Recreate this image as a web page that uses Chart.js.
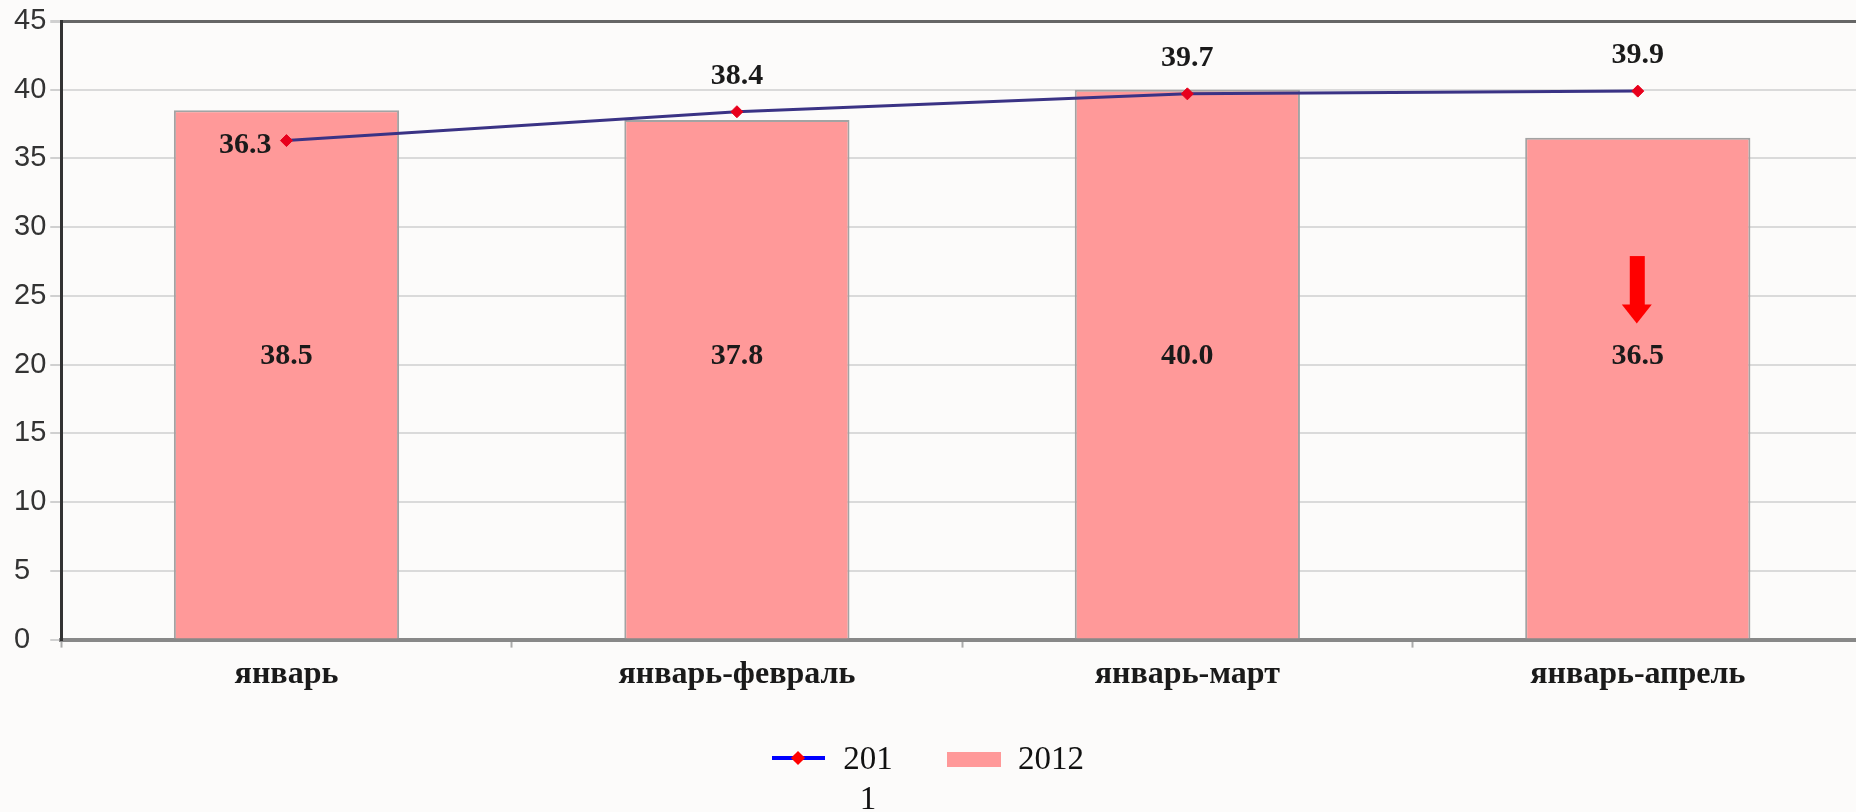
<!DOCTYPE html>
<html>
<head>
<meta charset="utf-8">
<script src="https://cdn.jsdelivr.net/npm/chart.js@4/dist/chart.umd.min.js"></script>
<style>
  html, body { margin: 0; padding: 0; background: #fcfbfa; }
  body { width: 1856px; height: 812px; overflow: hidden; position: relative; }
  #wrap { position: absolute; left: 0; top: 0; width: 1870px; height: 812px; }
  .lg { position: absolute; font-family: "Liberation Serif", serif; font-size: 33px; line-height: 40px; color: #111; }
</style>
</head>
<body>
<div id="wrap"><canvas id="grafico"></canvas></div>

<div style="position:absolute;left:772px;top:756px;width:53px;height:4px;background:#0000ff;"></div>
<div style="position:absolute;left:793px;top:753px;width:10px;height:10px;background:#ff0000;transform:rotate(45deg);"></div>
<div class="lg" id="leg2011" style="left:842px;top:738px;width:52px;text-align:center;word-break:break-all;"></div>
<div style="position:absolute;left:947px;top:752px;width:54px;height:15px;background:#ff9999;"></div>
<div class="lg" id="leg2012" style="left:1018px;top:738px;"></div>

<script>
var periodos = ["январь", "январь-февраль", "январь-март", "январь-апрель"];
var serie2011 = [36.3, 38.4, 39.7, 39.9];
var serie2012 = [38.5, 37.8, 40.0, 36.5];
var nombres = ["2011", "2012"];
var ejeY = { min: 0, max: 45, paso: 5 };

document.getElementById("leg2011").textContent = nombres[0];
document.getElementById("leg2012").textContent = nombres[1];

// etiquetas de datos y la flecha roja
var etiquetas = {
  id: "etiquetas",
  afterDatasetsDraw: function (chart) {
    var ctx = chart.ctx;
    var y = chart.scales.y;
    ctx.save();
    ctx.font = "bold 30px 'Liberation Serif'";
    ctx.fillStyle = "#1a1a1a";
    ctx.textBaseline = "alphabetic";

    // barras: texto a media altura
    var barras = chart.getDatasetMeta(1).data;
    ctx.textAlign = "center";
    barras.forEach(function (b, i) {
      ctx.fillText(serie2012[i].toFixed(1), b.x, y.getPixelForValue(20.8) + 10);
    });

    // linea: primero a la izquierda, el resto encima
    var puntos = chart.getDatasetMeta(0).data;
    puntos.forEach(function (p, i) {
      var txt = serie2011[i].toFixed(1);
      if (i === 0) {
        ctx.textAlign = "right";
        ctx.fillText(txt, p.x - 15, p.y + 12);
      } else {
        ctx.textAlign = "center";
        ctx.fillText(txt, p.x, p.y - 28);
      }
    });

    // flecha hacia abajo en la ultima barra
    var ult = barras[barras.length - 1];
    var ax = ult.x - 1;
    var yTop = y.getPixelForValue(27.9);
    var yTip = y.getPixelForValue(23.0);
    var yHead = yTip - 19;
    ctx.fillStyle = "#ff0000";
    ctx.fillRect(ax - 7, yTop, 15, yHead - yTop + 1);
    ctx.beginPath();
    ctx.moveTo(ax - 15, yHead);
    ctx.lineTo(ax + 15, yHead);
    ctx.lineTo(ax, yTip);
    ctx.closePath();
    ctx.fill();
    ctx.restore();
  }
};

document.addEventListener("DOMContentLoaded", function () {
  var ctx = document.getElementById("grafico").getContext("2d");
  new Chart(ctx, {
    type: "bar",
    data: {
      labels: periodos,
      datasets: [
        {
          type: "line",
          label: nombres[0],
          data: serie2011,
          borderColor: "#3a3385",
          borderWidth: 3,
          pointStyle: "rectRot",
          pointRadius: 6,
          pointBackgroundColor: "#e8001c",
          pointBorderColor: "#e8001c",
          pointBorderWidth: 1,
          tension: 0,
          order: 0
        },
        {
          label: nombres[1],
          data: serie2012,
          backgroundColor: "#ff9999",
          borderColor: "#a3a3a3",
          borderWidth: 2,
          barPercentage: 0.5,
          categoryPercentage: 1.0,
          order: 1
        }
      ]
    },
    options: {
      responsive: true,
      maintainAspectRatio: false,
      animation: false,
      layout: { padding: { left: 14, right: 0, top: 21, bottom: 110 } },
      plugins: {
        legend: { display: false },
        tooltip: { enabled: false }
      },
      scales: {
        x: {
          offset: true,
          grid: {
            display: true,
            offset: true,
            drawOnChartArea: false,
            tickLength: 8,
            tickColor: "#aaaaaa",
            tickWidth: 2
          },
          border: { display: true, color: "#888888", width: 4 },
          ticks: {
            padding: 8,
            color: "#1a1a1a",
            font: { family: "'Liberation Serif'", size: 32, weight: "bold" }
          }
        },
        y: {
          min: ejeY.min,
          max: ejeY.max,
          ticks: {
            stepSize: ejeY.paso,
            padding: 2,
            crossAlign: "far",
            color: "#333333",
            font: { family: "'Liberation Sans'", size: 29 }
          },
          grid: {
            tickLength: 11,
            color: function (c) { return c.tick && c.tick.value === ejeY.max ? "#666666" : "#dadada"; },
            tickColor: "#d0d0d0",
            lineWidth: function (c) { return c.tick && c.tick.value === ejeY.max ? 3 : 2; }
          },
          border: { display: true, color: "#333333", width: 3 }
        }
      }
    },
    plugins: [etiquetas]
  });
});
</script>
</body>
</html>
